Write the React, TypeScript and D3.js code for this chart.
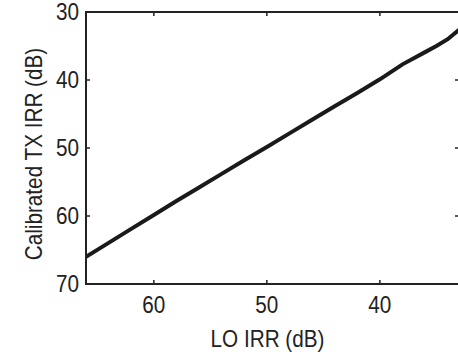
import React from 'react';
import * as d3 from 'd3';

// LO IRR (dB) on x, calibrated TX IRR (dB) on y
const loIrr = [66, 64, 62, 60, 58, 56, 54, 52, 50, 48, 46, 44, 42, 40, 39, 38, 37, 36, 35, 34, 33];
const txIrr = [66, 63.95, 61.9, 59.85, 57.8, 55.8, 53.8, 51.8, 49.85, 47.85, 45.85, 43.85, 41.9, 39.9, 38.8, 37.7, 36.8, 35.9, 35.0, 34.0, 32.6];
const xTicks = [60, 50, 40];
const yTicks = [30, 40, 50, 60, 70];

const W = 458, H = 358;
const margin = { top: 12, right: -1, bottom: 74, left: 86 };
const FONT = '"Liberation Sans", Arial, Helvetica, sans-serif';
const SX = 0.9;

export default function App() {
  const w = W - margin.left - margin.right;
  const h = H - margin.top - margin.bottom;
  const x = d3.scaleLinear().domain([66, 33]).range([0, w]);
  const y = d3.scaleLinear().domain([30, 70]).range([0, h]);
  const pts: [number, number][] = loIrr.map((d, i) => [d, txIrr[i]]);
  const line = d3.line<[number, number]>().x(d => x(d[0])).y(d => y(d[1]));
  const tk = 4;

  return (
    <svg width={W} height={H} style={{ position: 'absolute', left: 0, top: 0, background: '#fff' }}>
      <g transform={`translate(${margin.left},${margin.top})`}>
        <defs>
          <clipPath id="plot">
            <rect x={0} y={0} width={w} height={h} />
          </clipPath>
        </defs>
        <path d={line(pts) || ''} fill="none" stroke="#1a1a1a" strokeWidth={4} clipPath="url(#plot)" />

        {/* ticks, inward on all four sides */}
        {xTicks.map(t => (
          <g key={'x' + t}>
            <line x1={x(t)} x2={x(t)} y1={h} y2={h - tk} stroke="#222" strokeWidth={1.5} />
            <line x1={x(t)} x2={x(t)} y1={0} y2={tk} stroke="#222" strokeWidth={1.5} />
            <g transform={`translate(${x(t)},${h + 29})`}>
              <text transform={`scale(${SX},1)`} textAnchor="middle" fontFamily={FONT} fontSize={23} fill="#222">{t}</text>
            </g>
          </g>
        ))}
        {yTicks.map(t => (
          <g key={'y' + t}>
            <line x1={0} x2={tk} y1={y(t)} y2={y(t)} stroke="#222" strokeWidth={1.5} />
            <line x1={w} x2={w - tk} y1={y(t)} y2={y(t)} stroke="#222" strokeWidth={1.5} />
            <g transform={`translate(-7,${y(t) + 8})`}>
              <text transform={`scale(${SX},1)`} textAnchor="end" fontFamily={FONT} fontSize={23} fill="#222">{t}</text>
            </g>
          </g>
        ))}

        {/* box */}
        <rect x={0} y={0} width={w} height={h} fill="none" stroke="#222" strokeWidth={2} />

        {/* axis titles */}
        <g transform={`translate(${w / 2 - 5},${h + 63})`}>
          <text transform={`scale(${SX},1)`} textAnchor="middle" fontFamily={FONT} fontSize={23} fill="#222">LO IRR (dB)</text>
        </g>
        <g transform={`translate(${-44},${h / 2 + 6}) rotate(-90)`}>
          <text transform={`scale(${SX},1)`} textAnchor="middle" fontFamily={FONT} fontSize={23} fill="#222">Calibrated TX IRR (dB)</text>
        </g>
      </g>
    </svg>
  );
}
